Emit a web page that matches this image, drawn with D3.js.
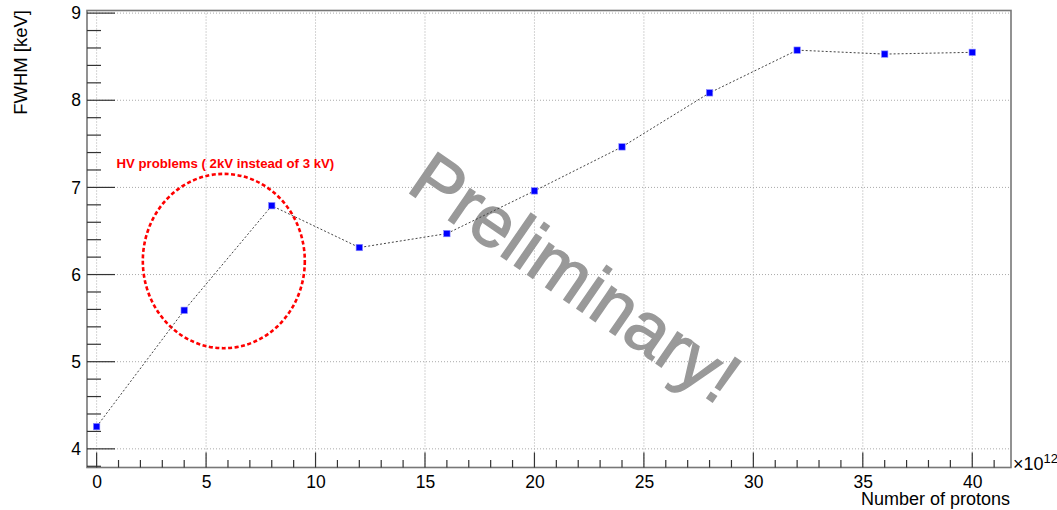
<!DOCTYPE html>
<html><head><meta charset="utf-8">
<script src="https://cdn.jsdelivr.net/npm/d3@7"></script>
<style>
html,body{margin:0;padding:0;background:#fff;}
svg{display:block;font-family:"Liberation Sans",Arial,sans-serif;}
</style></head>
<body>
<svg id="chart" width="1057" height="510"></svg>
<script>
// Data
const protons = [0, 4, 8, 12, 16, 20, 24, 28, 32, 36, 40];
const fwhm = [4.255, 5.59, 6.79, 6.31, 6.47, 6.96, 7.465, 8.085, 8.575, 8.53, 8.55];
const xTicks = [0, 5, 10, 15, 20, 25, 30, 35, 40];
const yTicks = [4, 5, 6, 7, 8, 9];
const xTitle = "Number of protons";
const yTitle = "FWHM [keV]";
const noteText = "HV problems ( 2kV instead of 3 kV)";
const watermark = "Preliminary!";
const xDomain = [-0.44, 41.77];
const yDomain = [3.786, 9.03];

const svg = d3.select("#chart");
const L = 87, R = 1011, T = 10.5, B = 467.5;
const x = d3.scaleLinear().domain(xDomain).range([L, R]);
const y = d3.scaleLinear().domain(yDomain).range([B, T]);

// grid
const grid = svg.append("g");
grid.selectAll("line.gx").data(xTicks).join("line")
  .attr("x1", d => x(d)).attr("x2", d => x(d)).attr("y1", T).attr("y2", B)
  .attr("stroke", "#aaa").attr("stroke-width", 1).attr("stroke-dasharray", "1,2");
grid.selectAll("line.gy").data(yTicks).join("line")
  .attr("x1", L).attr("x2", R).attr("y1", d => y(d)).attr("y2", d => y(d))
  .attr("stroke", "#aaa").attr("stroke-width", 1).attr("stroke-dasharray", "1,2");

// ellipse annotation (data coords)
const ellC = [5.81, 6.155], ellR = [3.7, 1.0];
svg.append("ellipse")
  .attr("cx", x(ellC[0])).attr("cy", y(ellC[1]))
  .attr("rx", x(ellC[0] + ellR[0]) - x(ellC[0]))
  .attr("ry", y(ellC[1]) - y(ellC[1] + ellR[1]))
  .attr("fill", "none").attr("stroke", "#ff0000").attr("stroke-width", 2.6)
  .attr("stroke-dasharray", "4,2.5");

svg.append("text").attr("x", x(0.91)).attr("y", y(7.226))
  .attr("fill", "#ff0000").attr("font-weight", "bold").attr("font-size", 13.2)
  .text(noteText);

// watermark
svg.append("text")
  .attr("transform", "translate(405,190) rotate(34.6)")
  .attr("fill", "#999").attr("stroke", "#999").attr("stroke-width", 1.4)
  .attr("font-size", 72)
  .text(watermark);

// line
const line = d3.line().x((d, i) => x(protons[i])).y(d => y(d));
svg.append("path").datum(fwhm).attr("d", line)
  .attr("fill", "none").attr("stroke", "#444").attr("stroke-width", 1)
  .attr("stroke-dasharray", "2,2");

// markers
svg.selectAll("rect.m").data(fwhm).join("rect")
  .attr("x", (d, i) => x(protons[i]) - 3.2).attr("y", d => y(d) - 3.2)
  .attr("width", 6.4).attr("height", 6.4).attr("fill", "#0000ff")
  .attr("stroke", "#8888ff").attr("stroke-width", 0.6);

// frame
svg.append("rect").attr("x", L).attr("y", T).attr("width", R - L).attr("height", B - T)
  .attr("fill", "none").attr("stroke", "#777").attr("stroke-width", 1.6);

// axes with ticks
const xMinor = d3.range(0, 42, 1).filter(v => v % 5 !== 0);
const yMinor = d3.range(3.8, 9.01, 0.2).filter(v => Math.abs(v - Math.round(v)) > 0.01);

const xAxis = d3.axisBottom(x).tickValues(xTicks).tickSize(0).tickPadding(0).tickFormat(d3.format("d"));
const gx = svg.append("g").attr("transform", `translate(0,${B})`).call(xAxis);
gx.select(".domain").remove();
gx.selectAll("text").attr("font-size", 17.5).attr("fill", "#000").attr("dy", null).attr("y", 20)
  .attr("font-family", "Liberation Sans, Arial, sans-serif");

const tickG = svg.append("g").attr("stroke", "#333").attr("stroke-width", 1.2);
tickG.selectAll("line.xM").data(xTicks).join("line")
  .attr("x1", d => x(d)).attr("x2", d => x(d)).attr("y1", B).attr("y2", B - 15);
tickG.selectAll("line.xm").data(xMinor).join("line")
  .attr("x1", d => x(d)).attr("x2", d => x(d)).attr("y1", B).attr("y2", B - 7.5);
tickG.selectAll("line.yM").data(yTicks).join("line")
  .attr("x1", L).attr("x2", L + 28).attr("y1", d => y(d)).attr("y2", d => y(d));
tickG.selectAll("line.ym").data(yMinor).join("line")
  .attr("x1", L).attr("x2", L + 14).attr("y1", d => y(d)).attr("y2", d => y(d));

const yAxis = d3.axisLeft(y).tickValues(yTicks).tickSize(0).tickPadding(6).tickFormat(d3.format("d"));
const gy = svg.append("g").attr("transform", `translate(${L},0)`).call(yAxis);
gy.select(".domain").remove();
gy.selectAll("text").attr("font-size", 17.5).attr("fill", "#000")
  .attr("font-family", "Liberation Sans, Arial, sans-serif");

// titles
svg.append("text").attr("x", 1010).attr("y", 505).attr("text-anchor", "end")
  .attr("font-size", 18).text(xTitle);
svg.append("text").attr("transform", "translate(27,10) rotate(-90)").attr("text-anchor", "end")
  .attr("font-size", 18.5).text(yTitle);

// exponent
const ex = svg.append("text").attr("x", 1013).attr("y", 470).attr("font-size", 18);
ex.append("tspan").text("\u00d710");
ex.append("tspan").attr("dy", -7).attr("font-size", 13).text("12");
</script>
</body></html>
